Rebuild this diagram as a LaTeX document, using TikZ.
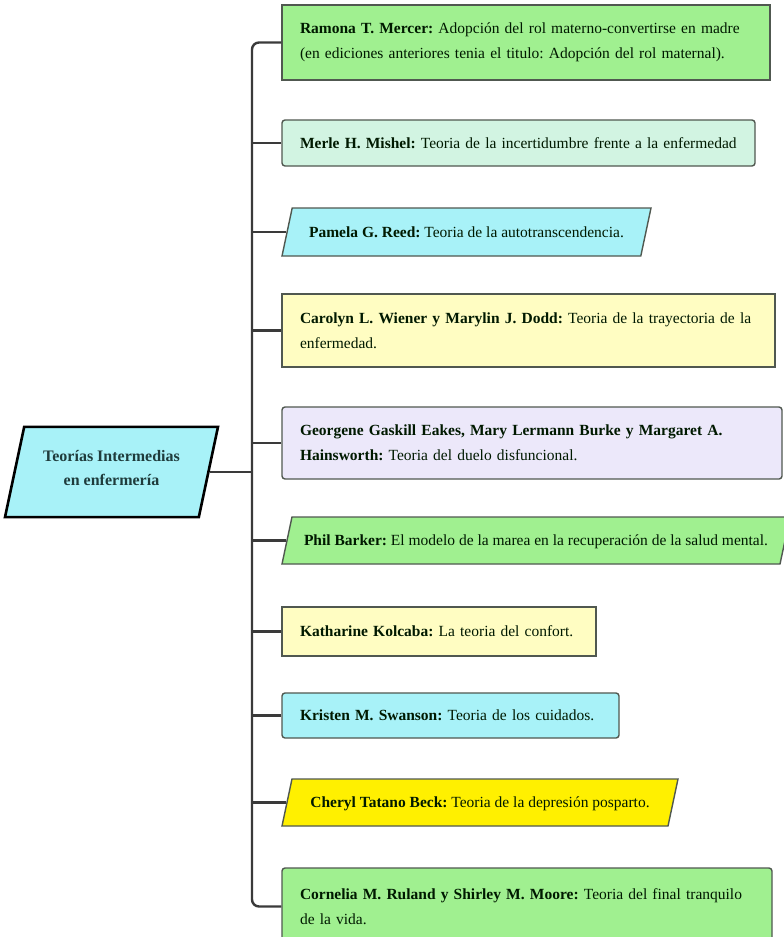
\documentclass[tikz,border=0pt]{standalone}
\usepackage{fontspec}
\setmainfont{Liberation Serif}
\usetikzlibrary{shapes.geometric}

\definecolor{leafgreen}{HTML}{A0F090}
\definecolor{leafmint}{HTML}{D2F4E2}
\definecolor{leafcyan}{HTML}{A8F2F8}
\definecolor{leafcream}{HTML}{FFFDC2}
\definecolor{leaflilac}{HTML}{ECE8FA}
\definecolor{leafyellow}{HTML}{FFF000}
\definecolor{boxline}{HTML}{505850}
\definecolor{linkline}{HTML}{3A3A3A}
\definecolor{roottext}{HTML}{1F3C3C}

\begin{document}
\begin{tikzpicture}[x=1pt, y=-1pt,
    every node/.style={font=\fontsize{15.5}{25}\selectfont\frenchspacing, text=black!90!green},
    leaf/.style={draw=boxline, line width=1.4pt, align=left, inner xsep=18pt, inner ysep=0pt},
    slantleaf/.style={draw=boxline, line width=1.4pt, trapezium, trapezium left angle=78,
        trapezium right angle=102, trapezium stretches body, inner xsep=4pt,
        execute at begin node=\strut},
    link/.style={draw=linkline, line width=2.4pt}]
    \useasboundingbox (0,0) rectangle (784,937);

    % root
    \node[slantleaf, fill=leafcyan, line width=2.6pt, draw=black, align=center,
        minimum width=213pt, inner ysep=24pt, text=roottext,
        font=\fontsize{16}{24}\selectfont\bfseries] (root) at (111.5,472)
        {Teorías Intermedias\\en enfermería\strut};

    % theories
    \node[leaf, fill=leafgreen, text width=452pt, minimum height=75pt] (mercer) at (526,42.5)
        {\textbf{Ramona T. Mercer:} Adopción del rol materno-convertirse en madre\\(en ediciones anteriores tenia el titulo: Adopción del rol maternal).};
    \node[leaf, fill=leafmint, rounded corners=3pt, text width=437pt, minimum height=46pt] (mishel) at (518.5,143)
        {\textbf{Merle H. Mishel:} Teoria de la incertidumbre frente a la enfermedad};
    \node[slantleaf, fill=leafcyan, minimum width=369pt, inner ysep=11.5pt] (reed) at (466.5,232)
        {\textbf{Pamela G. Reed:} Teoria de la autotranscendencia.};
    \node[leaf, fill=leafcream, text width=457pt, minimum height=73pt] (wiener) at (528.5,330.5)
        {\textbf{Carolyn L. Wiener y Marylin J. Dodd:} Teoria de la trayectoria de la\\enfermedad.};
    \node[leaf, fill=leaflilac, rounded corners=3pt, text width=464pt, minimum height=72pt] (eakes) at (532,443)
        {\textbf{Georgene Gaskill Eakes, Mary Lermann Burke y Margaret A.}\\\textbf{Hainsworth:} Teoria del duelo disfuncional.};
    \node[slantleaf, fill=leafgreen, minimum width=508pt, inner ysep=11pt] (barker) at (536,540.5)
        {\textbf{Phil Barker:} El modelo de la marea en la recuperación de la salud mental.};
    \node[leaf, fill=leafcream, text width=278pt, minimum height=49pt] (kolcaba) at (439,631.5)
        {\textbf{Katharine Kolcaba:} La teoria del confort.};
    \node[leaf, fill=leafcyan, rounded corners=3pt, text width=301pt, minimum height=45pt] (swanson) at (450.5,715.5)
        {\textbf{Kristen M. Swanson:} Teoria de los cuidados.};
    \node[slantleaf, fill=leafyellow, minimum width=396pt, inner ysep=11pt] (beck) at (480,802.5)
        {\textbf{Cheryl Tatano Beck:} Teoria de la depresión posparto.};
    \node[leaf, fill=leafgreen, rounded corners=3pt, text width=454pt, minimum height=77pt] (ruland) at (527,906.5)
        {\textbf{Cornelia M. Ruland y Shirley M. Moore:} Teoria del final tranquilo\\de la vida.};

    % connectors
    \coordinate (spine) at (252,472);
    \draw[link, rounded corners=7pt] (mercer.west) -| (spine) |- (ruland.west);
    \draw[link] (root.east) -- (root.east -| spine);
    \foreach \leafname in {mishel,reed,wiener,eakes,barker,kolcaba,swanson,beck}
        \draw[link] (\leafname.west) -- (\leafname.west -| spine);
\end{tikzpicture}
\end{document}
